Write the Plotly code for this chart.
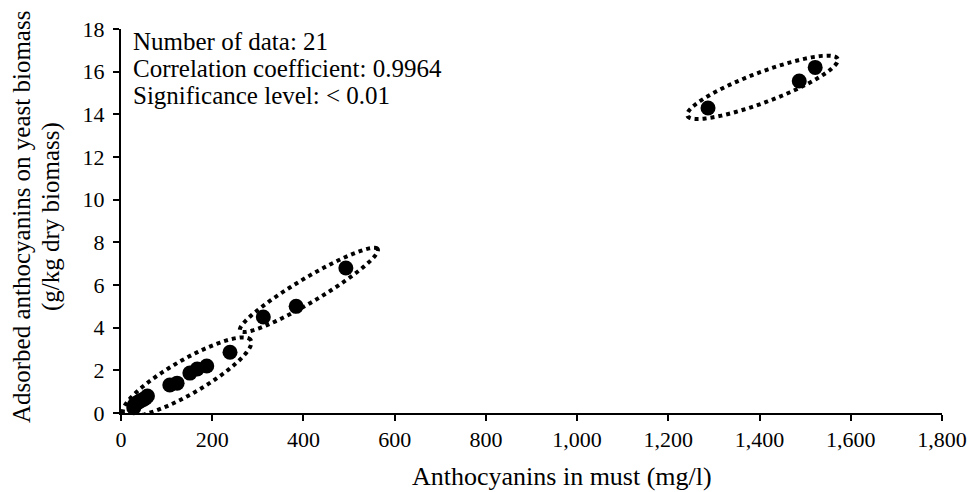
import numpy as np
import plotly.graph_objects as go

# ---- data ----
must_anthocyanins = [28, 30, 33, 37, 41, 45, 50, 54, 58,
                     107, 123, 151, 167, 188, 239,
                     312, 384, 493,
                     1287, 1487, 1522]
adsorbed = [0.25, 0.4, 0.45, 0.5, 0.55, 0.6, 0.65, 0.7, 0.8,
            1.31, 1.4, 1.87, 2.06, 2.2, 2.85,
            4.5, 5.0, 6.8,
            14.3, 15.56, 16.2]
# indices of points grouped by dotted ellipses
groups = [list(range(0, 15)), list(range(15, 18)), list(range(18, 21))]
stats_lines = ["Number of data: 21",
               "Correlation coefficient: 0.9964",
               "Significance level: < 0.01"]
x_title = "Anthocyanins in must (mg/l)"
y_title_lines = ["Adsorbed anthocyanins on yeast biomass", "(g/kg dry biomass)"]
x_ticks = [0, 200, 400, 600, 800, 1000, 1200, 1400, 1600, 1800]
x_ticklabels = ["0", "200", "400", "600", "800", "1,000", "1,200", "1,400", "1,600", "1,800"]
y_ticks = list(range(0, 19, 2))

# ---- layout constants ----
W, H = 968, 492
ML, MR, MT, MB = 121, 26, 29, 79
XR = (0, 1800)
YR = (0, 18)
FONT = "Liberation Serif"
FS_TEXT = 25
FS_XTITLE = 26
FS_YTITLE = 25
FS_TICK = 22

pw, ph = W - ML - MR, H - MT - MB
sx = pw / (XR[1] - XR[0])   # px per x unit
sy = ph / (YR[1] - YR[0])   # px per y unit


def px_to_paper(px, py):
    return (px - ML) / pw, (H - MB - py) / ph


fig = go.Figure()
fig.add_trace(go.Scatter(
    x=must_anthocyanins, y=adsorbed, mode="markers",
    marker=dict(size=15, color="black"), cliponaxis=False, showlegend=False))

# dotted ellipses around groups, built in pixel space from the group's points
ell_style = [dict(pad_a=(12, 24), b=17), dict(pad_a=(27, 37), b=12), dict(pad_a=(22, 24), b=15)]
for g, st in zip(groups, ell_style):
    xs = np.array([must_anthocyanins[i] for i in g]) * sx
    ys = np.array([adsorbed[i] for i in g]) * sy
    p0 = np.array([xs[0], ys[0]])
    p1 = np.array([xs[-1], ys[-1]])
    u = (p1 - p0) / np.linalg.norm(p1 - p0)
    a0 = p0 - u * st["pad_a"][0]
    a1 = p1 + u * st["pad_a"][1]
    c = (a0 + a1) / 2
    a = np.linalg.norm(a1 - a0) / 2
    v = np.array([-u[1], u[0]])
    t = np.linspace(0, 2 * np.pi, 120)
    pts = c[None, :] + np.outer(np.cos(t), u * a) + np.outer(np.sin(t), v * st["b"])
    path = "M " + " L ".join(f"{px / sx:.3f},{py / sy:.4f}" for px, py in pts) + " Z"
    fig.add_shape(type="path", path=path, xref="x", yref="y",
                  line=dict(color="black", width=4, dash="dot"))

# statistics text block
for i, line in enumerate(stats_lines):
    xp, yp = px_to_paper(131, 42 + 26.5 * i)
    fig.add_annotation(text=line, xref="paper", yref="paper", x=xp, y=yp,
                       xanchor="left", yanchor="middle", showarrow=False,
                       font=dict(family=FONT, size=FS_TEXT, color="black"))

# axis titles
xp, yp = px_to_paper(562, 476)
fig.add_annotation(text=x_title, xref="paper", yref="paper", x=xp, y=yp,
                   xanchor="center", yanchor="middle", showarrow=False,
                   font=dict(family=FONT, size=FS_XTITLE, color="black"))
for i, line in enumerate(y_title_lines):
    xp, yp = px_to_paper(21 + 30 * i, 217)
    fig.add_annotation(text=line, xref="paper", yref="paper", x=xp, y=yp,
                       xanchor="center", yanchor="middle", textangle=-90,
                       showarrow=False,
                       font=dict(family=FONT, size=FS_YTITLE, color="black"))

axis_common = dict(showline=True, linecolor="black", linewidth=2,
                   ticks="outside", ticklen=6, tickwidth=2, tickcolor="black",
                   showgrid=False, zeroline=False,
                   tickfont=dict(family=FONT, size=FS_TICK, color="black"))

fig.update_layout(
    width=W, height=H,
    margin=dict(l=ML, r=MR, t=MT, b=MB, autoexpand=False),
    paper_bgcolor="white", plot_bgcolor="white",
    font=dict(family=FONT, size=FS_TEXT, color="black"),
    xaxis=dict(range=list(XR), tickvals=x_ticks, ticktext=x_ticklabels,
               **axis_common),
    yaxis=dict(range=list(YR), tickvals=y_ticks, ticklabelstandoff=4,
               **axis_common),
)

fig.write_html("out.html")
